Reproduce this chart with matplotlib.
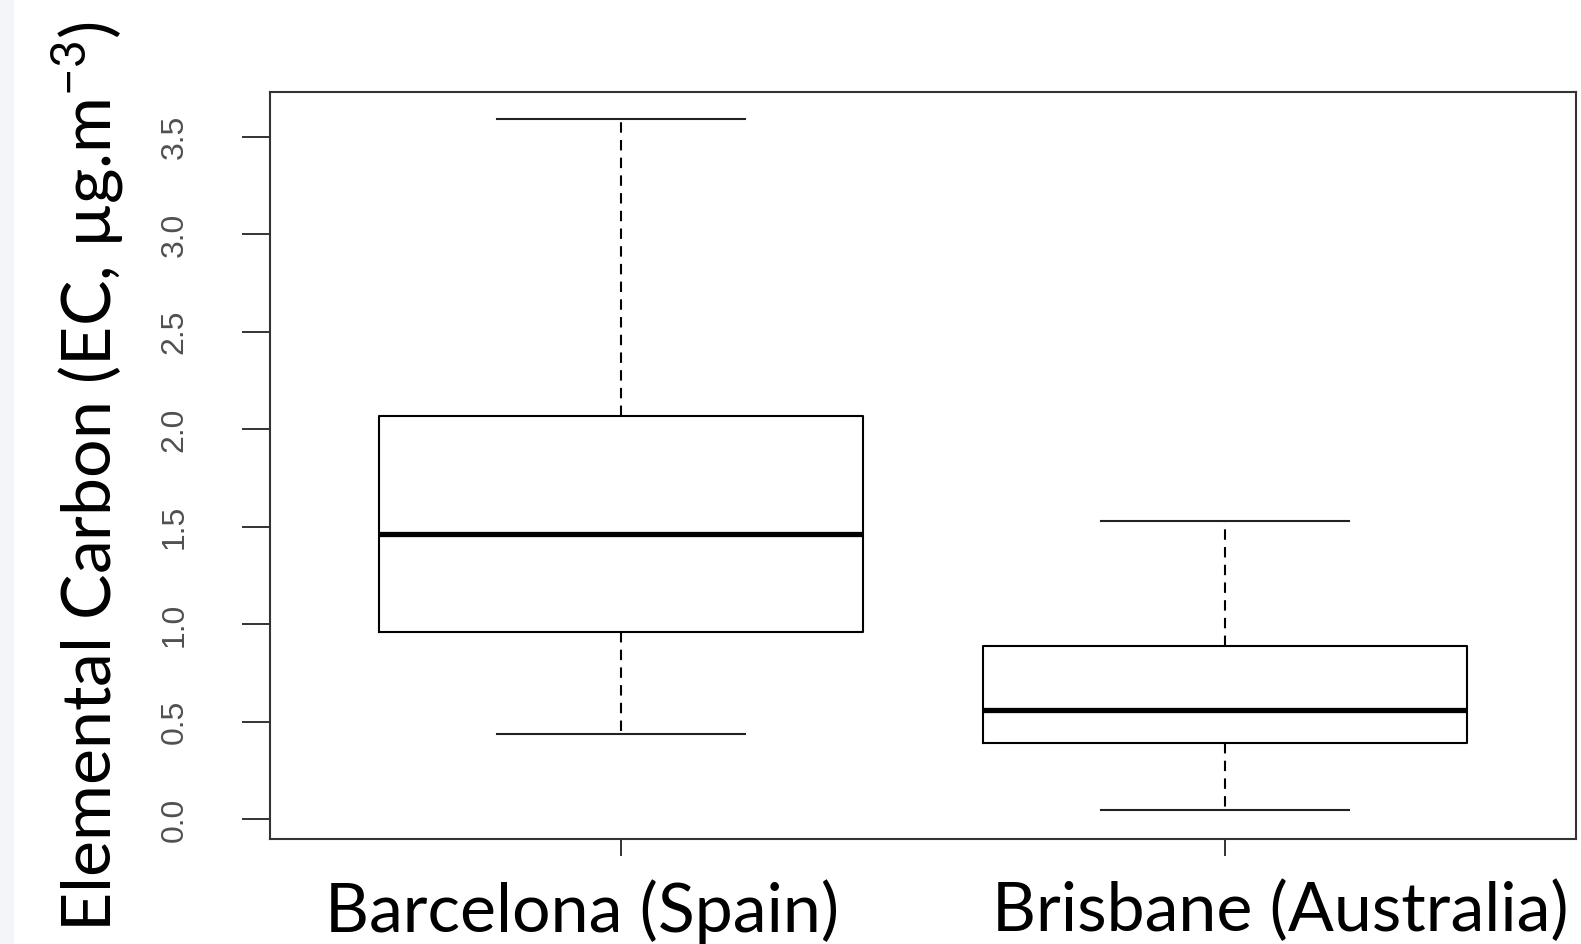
import matplotlib
matplotlib.use("Agg")
import matplotlib.pyplot as plt
from matplotlib.patches import Rectangle

# Datos
cities = ["Barcelona (Spain)", "Brisbane (Australia)"]
whis_lo = [0.44, 0.05]
q1 = [0.96, 0.39]
median = [1.465, 0.56]
q3 = [2.07, 0.89]
whis_hi = [3.59, 1.53]
yticks = [0.0, 0.5, 1.0, 1.5, 2.0, 2.5, 3.0, 3.5]

plt.rcParams["mathtext.fontset"] = "custom"
plt.rcParams["mathtext.rm"] = "Lato"

fig = plt.figure(figsize=(15.81, 9.44), dpi=100)
fig.patches.append(Rectangle((0, 0), 13 / 1581, 1, transform=fig.transFigure,
                             color="#f3f5f9", zorder=0))
ax = fig.add_axes([270 / 1581, 1 - 839 / 944, (1576 - 270) / 1581, (839 - 92) / 944])

stats = []
for i in range(len(cities)):
    stats.append(dict(med=median[i], q1=q1[i], q3=q3[i],
                      whislo=whis_lo[i], whishi=whis_hi[i], fliers=[]))

ax.bxp(stats, positions=[1, 2], widths=0.8, capwidths=0.41, showfliers=False,
       boxprops=dict(color="black", lw=1.5),
       medianprops=dict(color="black", lw=3.8, solid_capstyle="butt"),
       whiskerprops=dict(color="black", lw=1.5, linestyle=(0, (5, 3.5))),
       capprops=dict(color="#222222", lw=1.5))

ax.set_xlim(0.42, 2.58)
ax.set_ylim(-0.10, 3.73)
ax.set_yticks(yticks)
ax.set_yticklabels([f"{v:.1f}" for v in yticks], rotation=90, va="center",
                   family="Liberation Sans", fontsize=23, color="#505050")
ax.tick_params(axis="y", length=20, width=1.4, pad=38, color="#333333")
ax.set_xticks([1, 2])
ax.set_xticklabels(["", ""])
ax.tick_params(axis="x", length=12, width=1.4, color="#333333")
for s in ax.spines.values():
    s.set_linewidth(1.5)
    s.set_color("#333333")

fig.text(582 / 1581, 1 - 912 / 944, cities[0], ha="center", va="center",
         family="Lato", fontsize=49)
fig.text(1280 / 1581, 1 - 912 / 944, cities[1], ha="center", va="center",
         family="Lato", fontsize=49)
fig.text(88 / 1581, 1 - 477 / 944, r"Elemental Carbon (EC, µg.m$^{-3}$)",
         rotation=90, ha="center", va="center", family="Lato", fontsize=49)

fig.savefig("out.png", dpi=100)
